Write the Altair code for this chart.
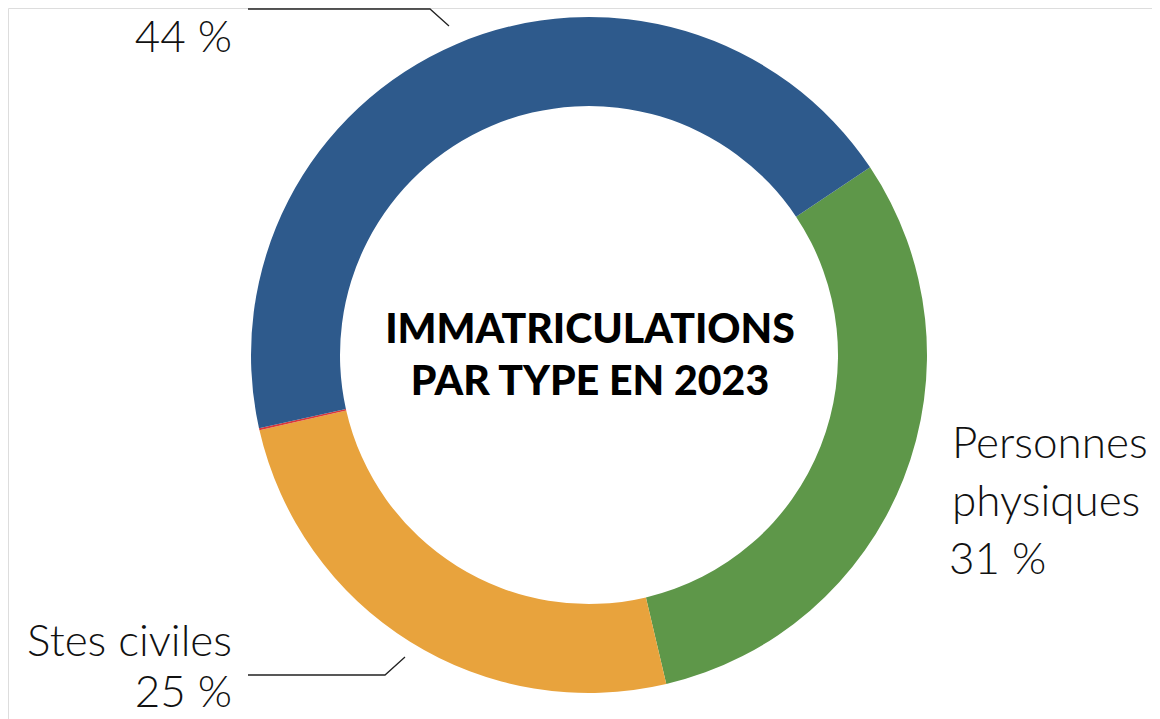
import altair as alt
import pandas as pd

# --- data ---
categories = ["Personnes physiques", "Stes civiles", "Autres", "Stes commerciales"]
shares = [30.7, 25.1, 0.1, 44.1]
colors = ["#5E9749", "#E8A33D", "#D9383A", "#2E5A8C"]
order = [0, 1, 2, 3]

label_text = ["44 %", "Personnes", "physiques", "31 %", "Stes civiles", "25 %"]
title_lines = ["IMMATRICULATIONS", "PAR TYPE EN 2023"]

# --- layout (pixels in the plot area) ---
W, H = 1144, 711
CX, CY = 581, 347
R_OUT, R_IN = 338, 249
START = 0.982  # radians, clockwise from 12 o'clock

df = pd.DataFrame({"cat": categories, "share": shares, "ord": order})

donut = alt.Chart(df).mark_arc(outerRadius=R_OUT, innerRadius=R_IN, strokeWidth=0).encode(
    theta=alt.Theta("share:Q", stack=True,
                    scale=alt.Scale(range=[START, START + 2 * 3.141592653589793])),
    order=alt.Order("ord:Q"),
    color=alt.Color("cat:N", scale=alt.Scale(domain=categories, range=colors), legend=None),
    x=alt.value(CX), y=alt.value(CY),
)

lab_x = [224, 944, 944, 941, 224, 224]
lab_y = [44, 450, 508, 566, 648, 699]
lab_align = ["right", "left", "left", "left", "right", "right"]
lab_df = pd.DataFrame({"t": label_text, "x": lab_x, "y": lab_y, "a": lab_align})

xs = alt.Scale(domain=[0, W], range=[0, W], nice=False, zero=False)
ys = alt.Scale(domain=[0, H], range=[0, H], nice=False, zero=False)

def text_layer(sub, align):
    return alt.Chart(sub).mark_text(
        align=align, baseline="alphabetic", font="Lato", fontWeight=300,
        fontSize=44, color="#111111"
    ).encode(
        x=alt.X("x:Q", scale=xs, axis=None),
        y=alt.Y("y:Q", scale=ys, axis=None),
        text="t:N",
    )

left_labels = text_layer(lab_df[lab_df.a == "right"], "right")
right_labels = text_layer(lab_df[lab_df.a == "left"], "left")

title_df = pd.DataFrame({"t": title_lines, "x": [582, 582], "y": [335, 387]})
title = alt.Chart(title_df).mark_text(
    align="center", baseline="alphabetic", font="Lato", fontWeight=900,
    fontSize=41, color="#000000"
).encode(
    x=alt.X("x:Q", scale=xs, axis=None),
    y=alt.Y("y:Q", scale=ys, axis=None),
    text="t:N",
)

lines_df = pd.DataFrame({
    "g": ["a", "a", "a", "b", "b", "b"],
    "i": [0, 1, 2, 0, 1, 2],
    "x": [240, 422, 441, 240, 377, 397],
    "y": [1, 1, 18, 667, 667, 649],
})
leaders = alt.Chart(lines_df).mark_line(color="#222222", strokeWidth=1.3).encode(
    x=alt.X("x:Q", scale=xs, axis=None),
    y=alt.Y("y:Q", scale=ys, axis=None),
    detail="g:N",
    order="i:Q",
)

chart = alt.layer(donut, leaders, left_labels, right_labels, title).properties(
    width=W, height=H, padding=0, autosize=alt.AutoSizeParams(type="none")
).configure_view(strokeWidth=0).configure(background="white")

chart.save("out.html", embed_options={"renderer": "svg", "actions": False})
